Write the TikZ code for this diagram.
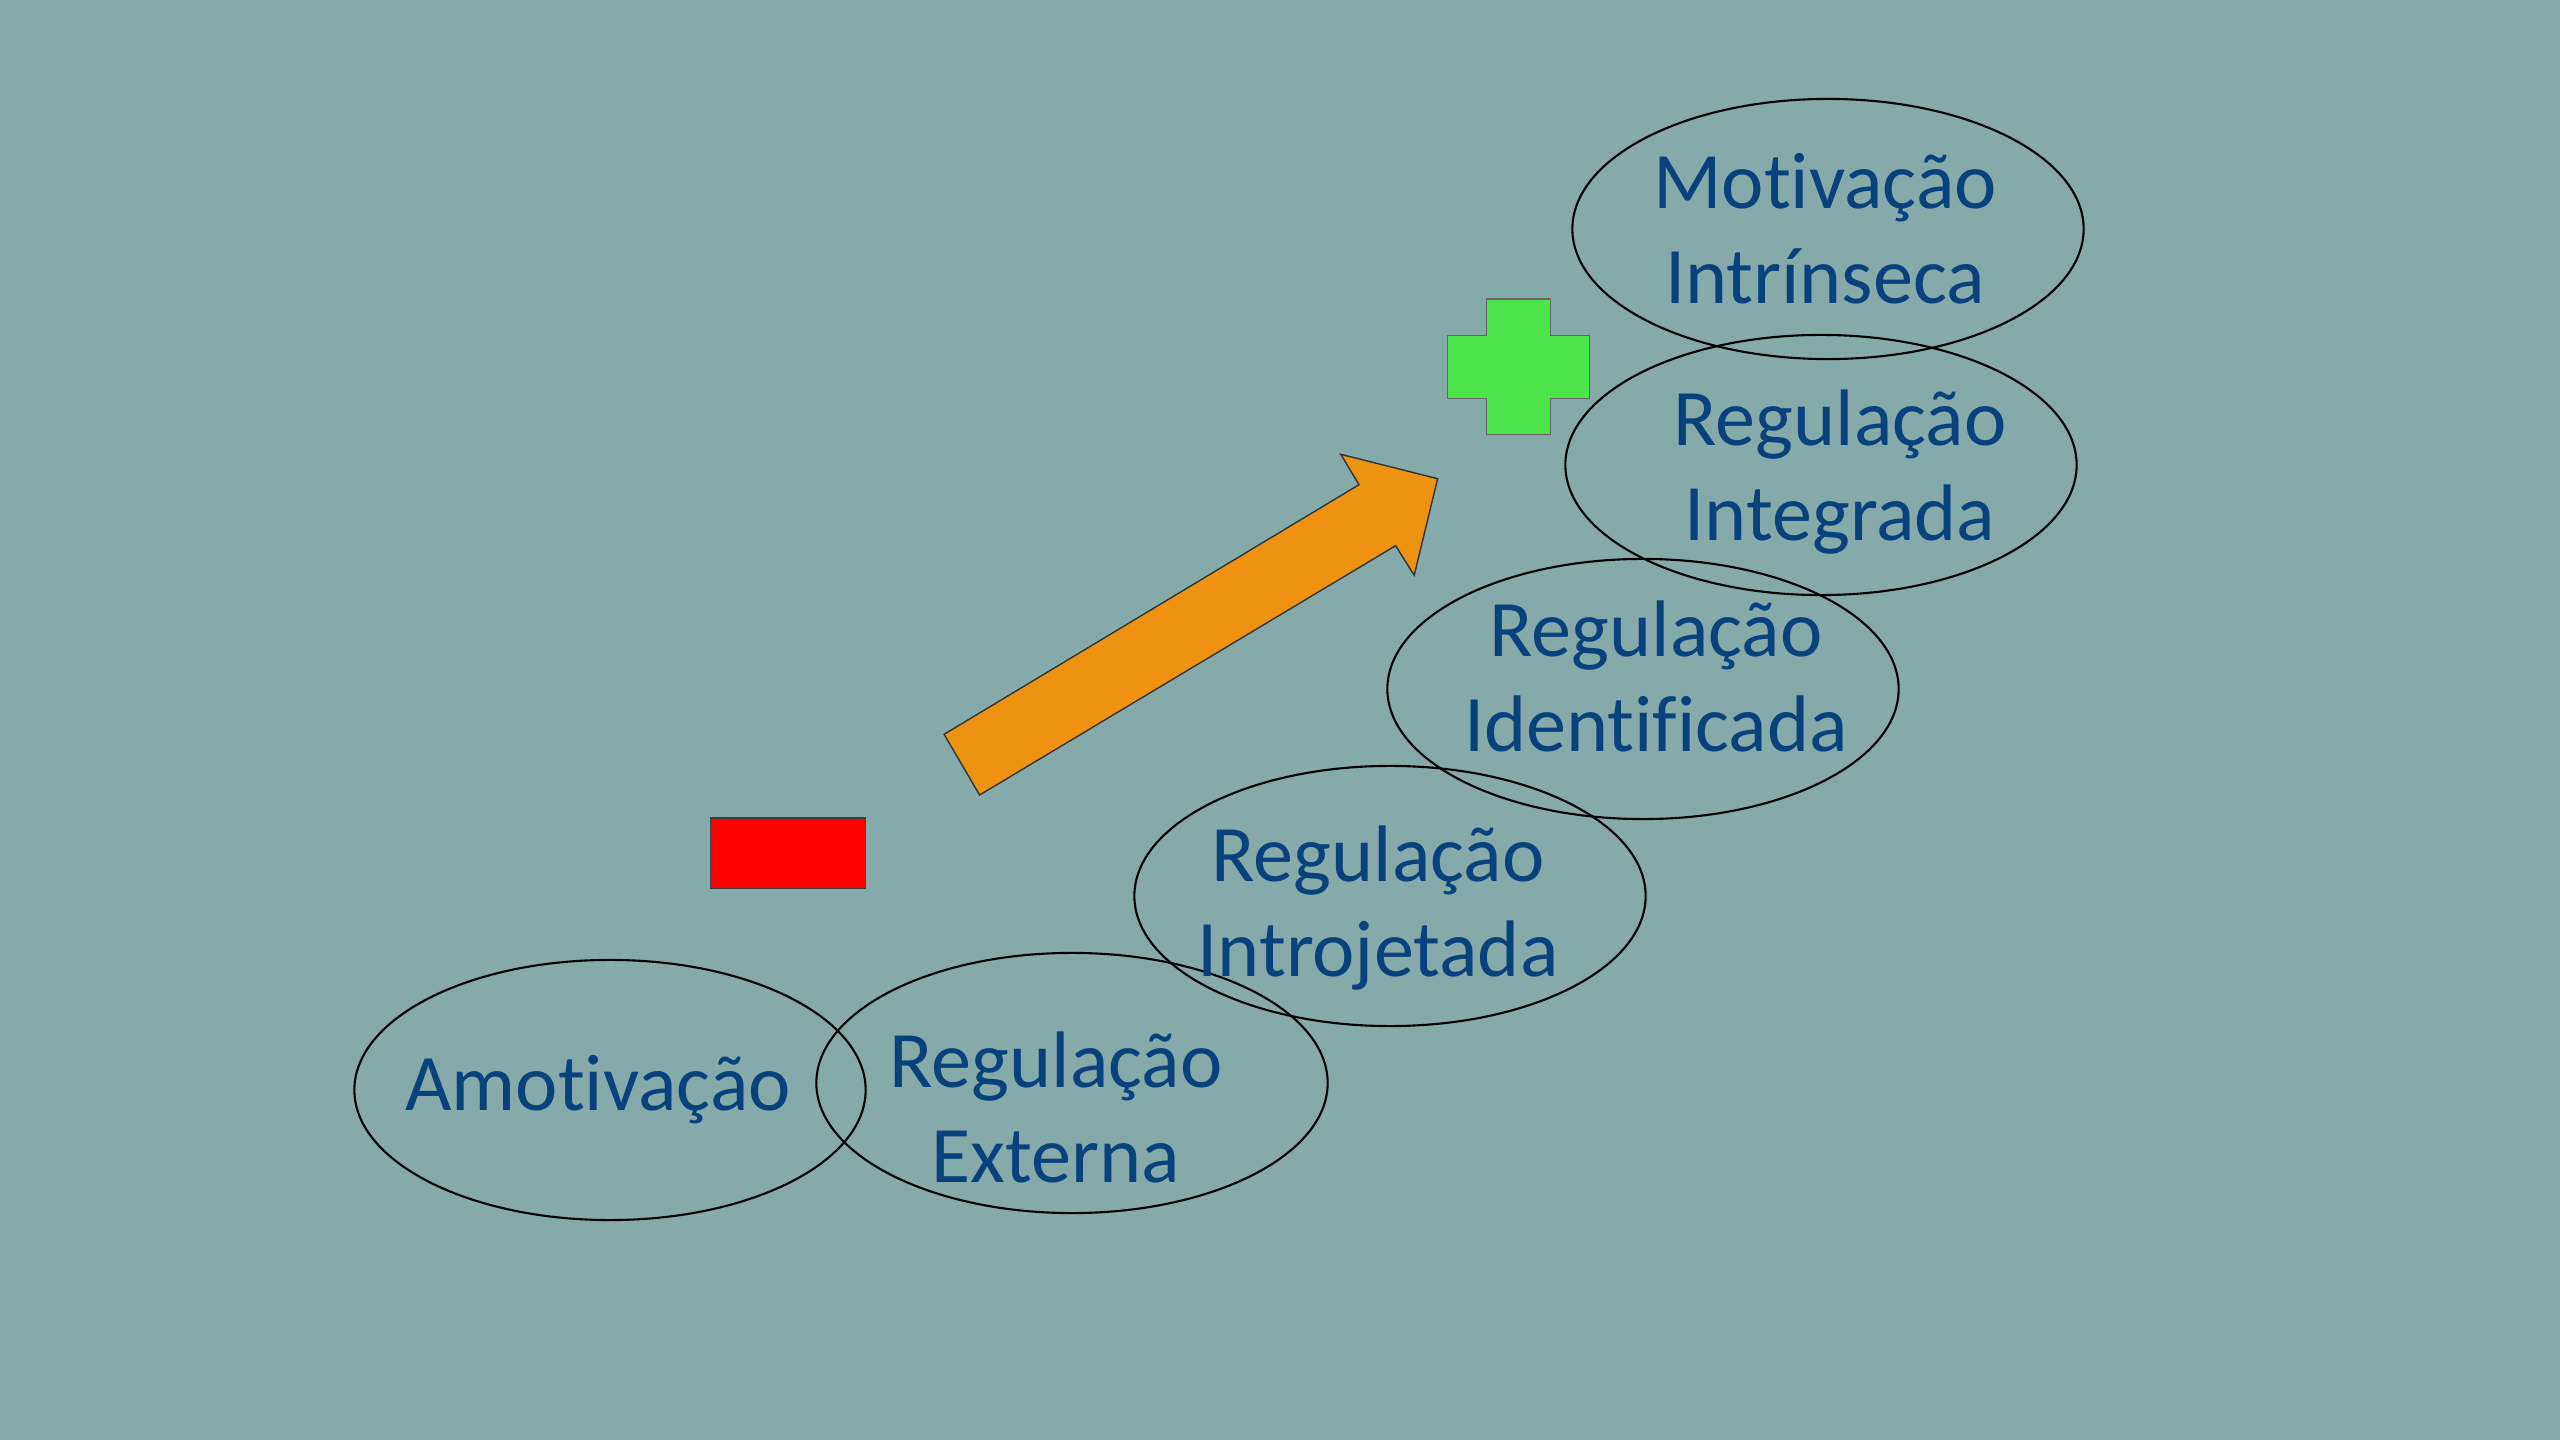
\documentclass[tikz,border=0pt]{standalone}
\usepackage{fontspec}
\setmainfont{Carlito}[RawFeature={-liga;-clig;-calt;-dlig}]
\usetikzlibrary{shapes.geometric, calc}
\definecolor{slidebg}{HTML}{84AAA9}
\definecolor{txtblue}{HTML}{08427C}
\definecolor{xorange}{HTML}{EE9212}
\definecolor{xgreen}{HTML}{4CE64C}
\definecolor{xred}{HTML}{FF0000}
\tikzset{
	stage/.style = {ellipse, draw=black, line width=0.6pt, minimum width=5.11cm, minimum height=2.6cm, inner sep=0pt},
	stagetext/.style = {text=txtblue, font=\fontsize{22.8}{27}\selectfont, align=center, inner sep=0pt},
}
\begin{document}
\begin{tikzpicture}[x=0.01cm, y=-0.01cm]
			\fill[slidebg] (0,0) rectangle (2560,1440);
			% stages
			\node[stage] (amot) at (610,1090) {};
			\node[stage] (ext)  at (1072,1083) {};
			\node[stage] (intro) at (1390,896) {};
			\node[stage] (ident) at (1643,689) {};
			\node[stage] (integ) at (1821,465) {};
			\node[stage] (intr) at (1828,229) {};
			\node[stagetext] (amottxt)  at (598,1090) {Amotivação};
			\node[stagetext] (exttxt)   at (1056,1107) {Regulação\\Externa};
			\node[stagetext] (introtxt) at (1378,908) {Regulação\\Introjetada};
			\node[stagetext] (identtxt) at (1656,676) {Regulação\\Identificada};
			\node[stagetext] (integtxt) at (1840,472) {Regulação\\Integrada};
			\node[stagetext] (intrtxt)  at (1825,229) {Motivação\\Intrínseca};
			% minus, arrow, plus
			\filldraw[fill=xred, draw=black!75, line width=0.4pt] (710.5,818) rectangle (865.5,888.5);
			\filldraw[fill=xorange, draw=black!80, line width=0.4pt] (944.1,734.3) -- (979.6,795) -- (1395.6,545.7) -- (1414.2,575.3) -- (1437.6,478.7) -- (1340.8,454.3) -- (1359,484.7) -- cycle;
			\filldraw[fill=xgreen, draw=black!60, line width=0.4pt] (1486.7,299) -- (1550.3,299) -- (1550.3,335.3) -- (1589.3,335.3) -- (1589.3,398.3) -- (1550.3,398.3) -- (1550.3,434.7) -- (1486.7,434.7) -- (1486.7,398.3) -- (1447.7,398.3) -- (1447.7,335.3) -- (1486.7,335.3) -- cycle;
		\end{tikzpicture}
\end{document}
